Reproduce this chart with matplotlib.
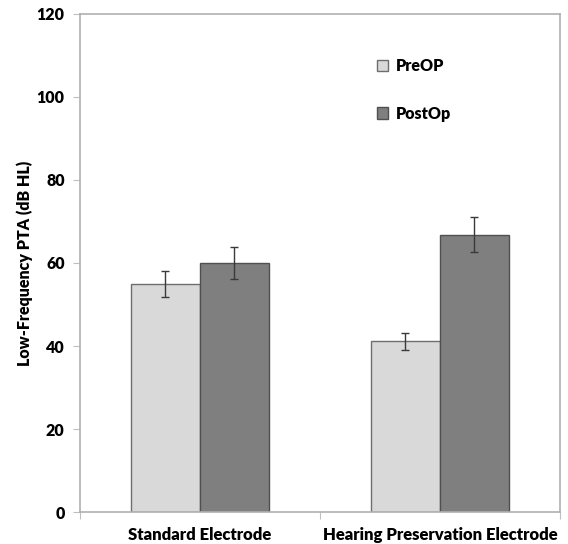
import matplotlib.pyplot as plt
import numpy as np

# Data
categories = ['Standard Electrode', 'Hearing Preservation Electrode']
series = ['PreOP', 'PostOp']
pre_op = [54.9, 41.1]
post_op = [60.0, 66.8]
pre_err = [3.1, 2.1]
post_err = [3.9, 4.2]

plt.rcParams['font.family'] = ['Lato', 'DejaVu Sans']

fig = plt.figure(figsize=(5.68, 5.44), dpi=100)
ax = fig.add_axes([0.1408, 0.0588, 0.8451, 0.9155])

x = np.arange(len(categories))
width = 0.2875

ax.bar(x - width / 2, pre_op, width, yerr=pre_err, label=series[0],
       color='#d9d9d9', edgecolor='#6e6e6e', linewidth=1.0,
       error_kw=dict(ecolor='#3a3a3a', elinewidth=1.0, capsize=3, capthick=1.0))
ax.bar(x + width / 2, post_op, width, yerr=post_err, label=series[1],
       color='#7f7f7f', edgecolor='#505050', linewidth=1.0,
       error_kw=dict(ecolor='#3a3a3a', elinewidth=1.0, capsize=3, capthick=1.0))

ax.set_xlim(-0.5, 1.5)
ax.set_ylim(0, 120)
ax.set_yticks(np.arange(0, 121, 20))
ax.set_yticklabels([str(v) for v in range(0, 121, 20)], fontweight='heavy', fontsize=11.5)

# category labels, ticks at category boundaries
ax.set_xticks([-0.5, 0.5, 1.5])
ax.set_xticklabels([])
ax.set_xticks(x, minor=True)
ax.set_xticklabels(categories, minor=True, fontweight='heavy', fontsize=12)
ax.tick_params(axis='x', which='minor', length=0, pad=11)
ax.tick_params(axis='x', which='major', length=5, color='#bfbfbf')
ax.tick_params(axis='y', length=5, color='#bfbfbf', pad=6)

for s in ax.spines.values():
    s.set_color('#b0b0b0')
    s.set_linewidth(1.2)

ax.set_ylabel('Low-Frequency PTA (dB HL)', fontweight='heavy', fontsize=11.5, labelpad=3)

ax.legend(loc='center left', bbox_to_anchor=(0.588, 0.848), frameon=False,
          handlelength=0.7, handleheight=0.7, handletextpad=0.5,
          labelspacing=2.0, prop=dict(weight='heavy', size=11.5))

plt.savefig('out.png', dpi=100)
